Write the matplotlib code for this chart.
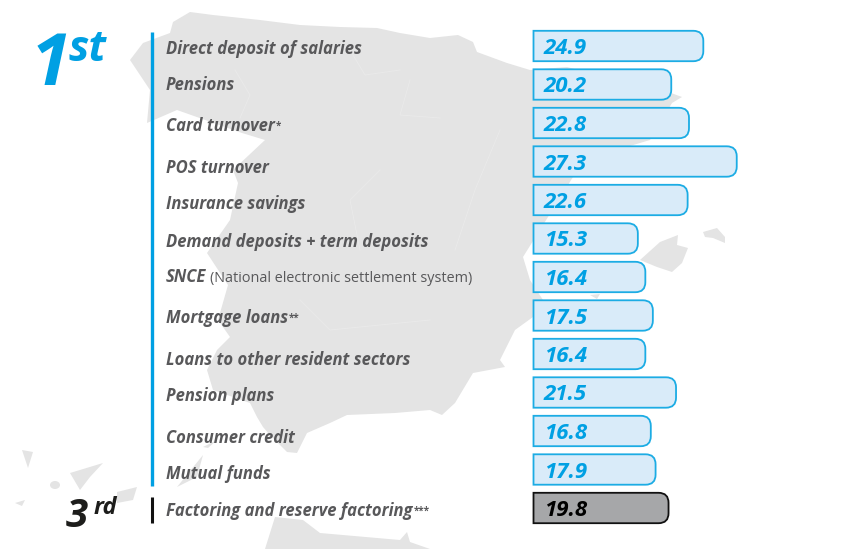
import matplotlib
matplotlib.use('Agg')
import matplotlib.pyplot as plt
from matplotlib.patches import PathPatch, Polygon, Ellipse
from matplotlib.path import Path

plt.rcParams['font.family'] = ['Open Sans', 'DejaVu Sans']

categories = ['Direct deposit of salaries', 'Pensions', 'Card turnover', 'POS turnover',
              'Insurance savings', 'Demand deposits + term deposits', 'SNCE',
              'Mortgage loans', 'Loans to other resident sectors', 'Pension plans',
              'Consumer credit', 'Mutual funds', 'Factoring and reserve factoring']
suffixes = ['', '', '*', '', '', '', '(National electronic settlement system)',
            '**', '', '', '', '', '***']
value_labels = ['24.9', '20.2', '22.8', '27.3', '22.6', '15.3', '16.4',
                '17.5', '16.4', '21.5', '16.8', '17.9', '19.8']
# drawn lengths: a few differ from the printed figure
bar_lengths = [24.9, 20.2, 22.8, 29.8, 22.6, 15.3, 16.4, 17.5, 16.4, 20.9, 17.2, 17.9, 19.8]
baselines = [54, 90, 131, 173, 209, 247, 282, 323, 365, 401, 443, 479, 516]

BLUE = '#00a0e3'
BAR_BLUE = '#1cace4'
LIGHT = '#d9ebf9'
GREY_TEXT = '#58585a'
MAP = '#e4e4e4'

# background map outlines, in image pixels
iberia = [(130, 60), (143, 43), (170, 33), (173, 22), (190, 12), (213, 15), (260, 20), (300, 25),
          (340, 27), (377, 28), (400, 33), (430, 38), (458, 35), (473, 42), (477, 52), (507, 63),
          (530, 70), (567, 67), (590, 73), (663, 90), (682, 97), (672, 103), (650, 140), (600, 155),
          (573, 177), (548, 217), (523, 257), (530, 280), (543, 300), (533, 317), (515, 330),
          (500, 360), (505, 367), (473, 373), (455, 403), (442, 415), (430, 410), (395, 413),
          (347, 415), (330, 423), (307, 433), (297, 453), (287, 452), (270, 435), (263, 427),
          (257, 417), (250, 403), (213, 390), (207, 370), (217, 350), (230, 337), (218, 320),
          (228, 285), (207, 253), (230, 220), (238, 183), (233, 170), (265, 140), (242, 133),
          (177, 110), (147, 123), (150, 90)]
mallorca = [(640, 260), (660, 242), (678, 235), (677, 245), (688, 248), (682, 263), (672, 272), (657, 267)]
menorca = [(703, 232), (717, 228), (725, 237), (725, 243), (713, 238), (705, 237)]
ibiza = [(590, 295), (600, 294), (597, 299)]
canaries = [[(22, 450), (33, 452), (28, 468)],
            [(70, 473), (103, 463), (90, 477), (80, 490)],
            [(117, 492), (137, 487), (133, 500), (117, 503)],
            [(15, 503), (25, 500), (22, 506)],
            [(177, 487), (203, 455), (197, 477)],
            [(203, 447), (217, 440), (208, 448)]]
africa = [(265, 549), (275, 517), (303, 520), (320, 533), (400, 540), (407, 532), (410, 542), (430, 549)]
borders = [[(235, 70), (250, 95), (240, 118)], [(350, 50), (365, 75), (400, 70)],
           [(410, 80), (400, 115), (440, 118)], [(380, 170), (350, 200), (360, 250)],
           [(500, 130), (475, 190), (455, 250)], [(300, 300), (330, 330), (430, 320)]]

fig = plt.figure(figsize=(8.54, 5.49), dpi=100)

bg = fig.add_axes([0, 0, 1, 1])
bg.set_xlim(0, 854)
bg.set_ylim(549, 0)
bg.axis('off')

for shape in [iberia, mallorca, menorca, ibiza, africa] + canaries:
    bg.add_patch(Polygon(shape, closed=True, facecolor=MAP, edgecolor='none', zorder=1))
bg.add_patch(Ellipse((55, 485), 10, 8, facecolor=MAP, edgecolor='none', zorder=1))
for line in borders:
    bg.plot([p[0] for p in line], [p[1] for p in line], color='#eaeaea', lw=0.6, zorder=1.5)

# rank markers
bg.plot([152, 152], [32, 486], color=BLUE, lw=2.4, solid_capstyle='butt', zorder=3)
bg.plot([152, 152], [497, 523], color='#111111', lw=2.2, solid_capstyle='butt', zorder=3)
bg.text(31, 85, '1', color=BLUE, fontsize=52, fontweight='bold', style='italic', va='baseline', zorder=4)
bg.text(69, 61, 'st', color=BLUE, fontsize=31, fontweight='bold', style='italic', va='baseline', zorder=4)
bg.text(66, 527, '3', color='#1d1d1b', fontsize=29, fontweight='bold', style='italic', va='baseline', zorder=4)
bg.text(94, 514, 'rd', color='#1d1d1b', fontsize=17, fontweight='bold', style='italic', va='baseline', zorder=4)

# row labels
fig.canvas.draw()
renderer = fig.canvas.get_renderer()
for name, tail, y in zip(categories, suffixes, baselines):
    t = bg.text(166, y, name, color=GREY_TEXT, fontsize=12, fontweight='bold', style='italic',
                va='baseline', zorder=4)
    if tail:
        x_end = 166 + t.get_window_extent(renderer).width
        if tail.startswith('('):
            bg.text(x_end + 4, y, tail, color=GREY_TEXT, fontsize=10.4, va='baseline', zorder=4)
        else:
            bg.text(x_end + 1, y - 2, tail, color=GREY_TEXT, fontsize=7, fontweight='bold', va='baseline', zorder=4)

# bars: x is in value units, y in rows
px_per_unit = 6.82
row_px = 38.5
ax = fig.add_axes([533.5 / 854, 1 - (46 + 12.5 * row_px) / 549, 300 / 854, 13 * row_px / 549])
ax.set_xlim(0, 300 / px_per_unit)
ax.set_ylim(12.5, -0.5)
ax.axis('off')
ax.patch.set_alpha(0)

half = 15.2 / row_px
rx = 10 / px_per_unit
ry = 10 / row_px
for i, (length, label) in enumerate(zip(bar_lengths, value_labels)):
    last = i == len(bar_lengths) - 1
    top, bottom = i - half, i + half
    verts = [(0, top), (length - rx, top), (length, top), (length, top + ry),
             (length, bottom - ry), (length, bottom), (length - rx, bottom), (0, bottom), (0, top)]
    codes = [Path.MOVETO, Path.LINETO, Path.CURVE3, Path.CURVE3,
             Path.LINETO, Path.CURVE3, Path.CURVE3, Path.LINETO, Path.CLOSEPOLY]
    ax.add_patch(PathPatch(Path(verts, codes), facecolor='#a6a7a9' if last else LIGHT,
                           edgecolor='#111111' if last else BAR_BLUE, lw=1.3, clip_on=False))
    ax.text(10.2 / px_per_unit, i + 8 / row_px, label, color='#000000' if last else BLUE, fontsize=16,
            fontweight='bold', style='italic', va='baseline', ha='left')

fig.savefig('out.png', dpi=100)
